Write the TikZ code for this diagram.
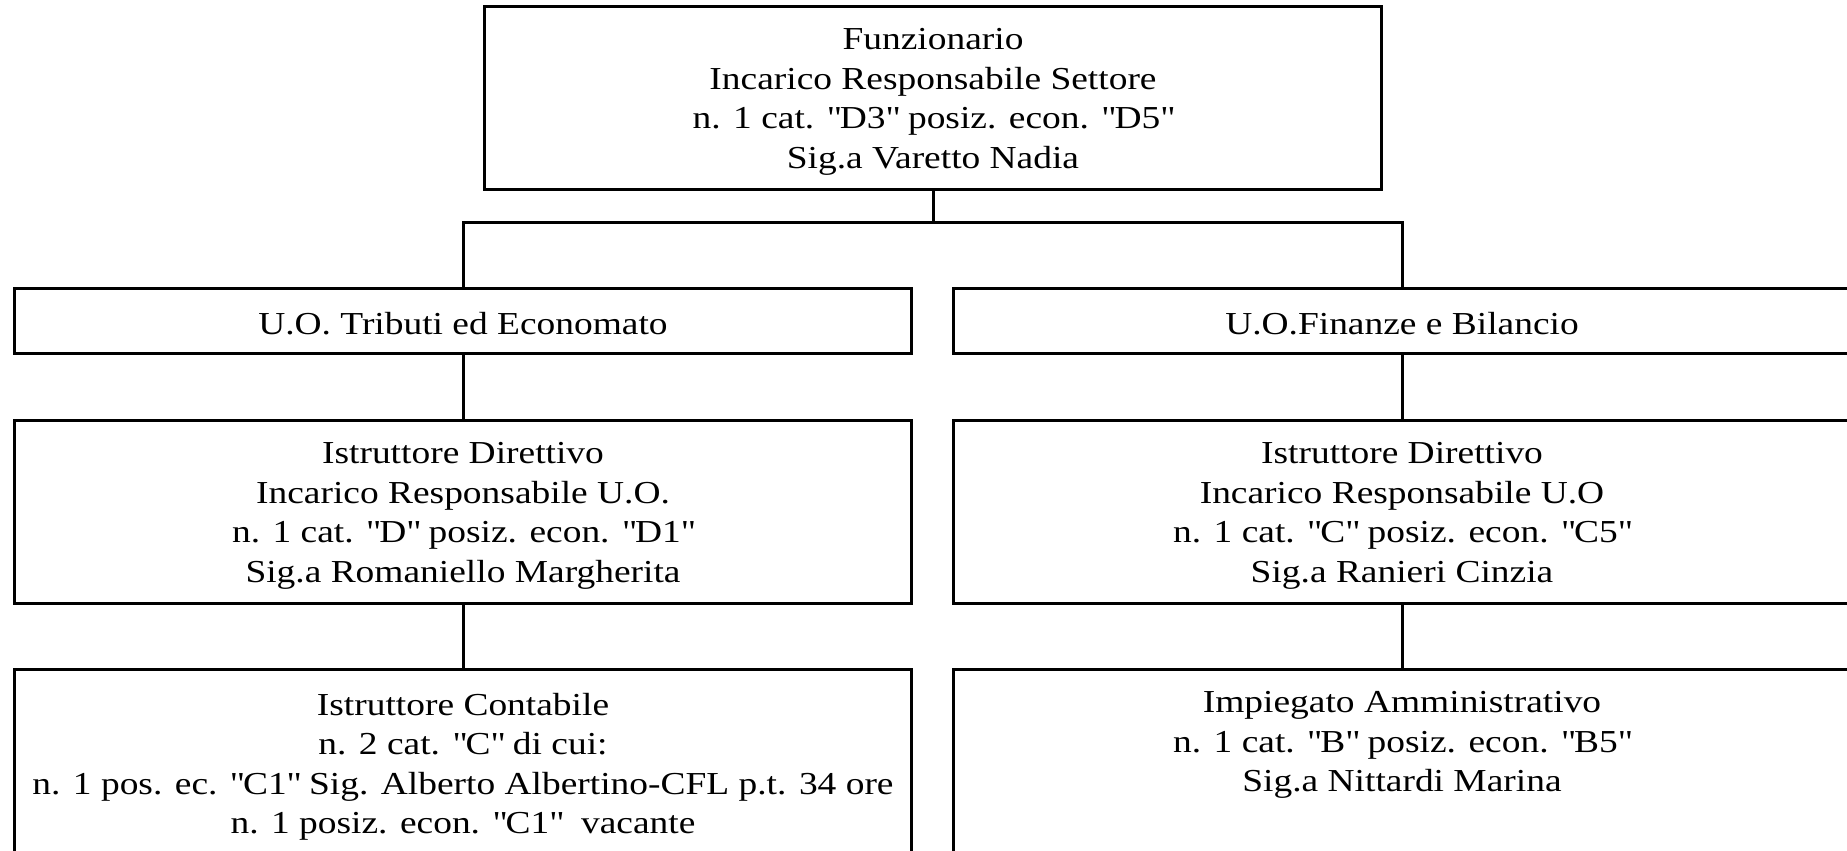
\documentclass[tikz,border=0pt]{standalone}
\usepackage{fontspec}
\setmainfont[FakeStretch=1.17]{Liberation Serif}
\usepackage{tikz}
\usetikzlibrary{positioning}
\tikzstyle{link} = [draw, line width=1.5pt]
\newcommand{\qd}{\textquotedbl}
\newcommand{\lift}{\rule{0pt}{15pt}}

\begin{document}
\begin{tikzpicture}[
	frame/.style={draw, line width=1.5pt, minimum width=448.5pt,
		align=center, inner sep=0pt, outer sep=0pt,
		font=\fontsize{16pt}{19.75pt}\selectfont,
		execute at end node=\rule[-3.5pt]{0pt}{3.5pt}},
	post/.style={frame, minimum height=91.5pt},
	unit/.style={frame, minimum height=32.5pt,
		execute at begin node=\rule{0pt}{17pt}}]
	\useasboundingbox (0,0) rectangle (923.5pt,-425.5pt);
	\clip (0,0) rectangle (923.5pt,-425.5pt);
	\node [post] (head) at (466.5pt,-48.75pt) {\lift Funzionario\\ Incarico Responsabile Settore\\ n. 1 cat. \qd D3\qd{} posiz. econ. \qd D5\qd\\ Sig.a Varetto Nadia};
	\node [unit, below=49.5pt of head, xshift=-235pt] (uoT) {U.O. Tributi ed Economato};
	\node [unit, below=49.5pt of head, xshift=234.5pt] (uoF) {U.O.Finanze e Bilancio};
	\node [post, below=33.5pt of uoT] (dirT) {\lift Istruttore Direttivo\\ Incarico Responsabile U.O.\\ n. 1 cat. \qd D\qd{} posiz. econ. \qd D1\qd\\ Sig.a Romaniello Margherita};
	\node [post, below=33.5pt of uoF] (dirF) {\lift Istruttore Direttivo\\ Incarico Responsabile U.O\\ n. 1 cat. \qd C\qd{} posiz. econ. \qd C5\qd\\ Sig.a Ranieri Cinzia};
	\node [post, minimum height=94pt, below=33pt of dirT] (conT) {\lift Istruttore Contabile\\ n. 2 cat. \qd C\qd{} di cui:\\ n. 1 pos. ec. \qd C1\qd{} Sig. Alberto Albertino-CFL p.t. 34 ore\\ n. 1 posiz. econ. \qd C1\qd\ \ vacante};
	\node [post, minimum height=94pt, below=33pt of dirF] (impF) {\lift Impiegato Amministrativo\\ n. 1 cat. \qd B\qd{} posiz. econ. \qd B5\qd\\ Sig.a Nittardi Marina\\ \strut};
	%% Connectors
	\path [link] (head.south) -- ++(0,-16.5pt) -| (uoT.north);
	\path [link] (head.south) -- ++(0,-16.5pt) -| (uoF.north);
	\path [link] (uoT) -- (dirT);
	\path [link] (uoF) -- (dirF);
	\path [link] (dirT) -- (conT);
	\path [link] (dirF) -- (impF);
\end{tikzpicture}
\end{document}
